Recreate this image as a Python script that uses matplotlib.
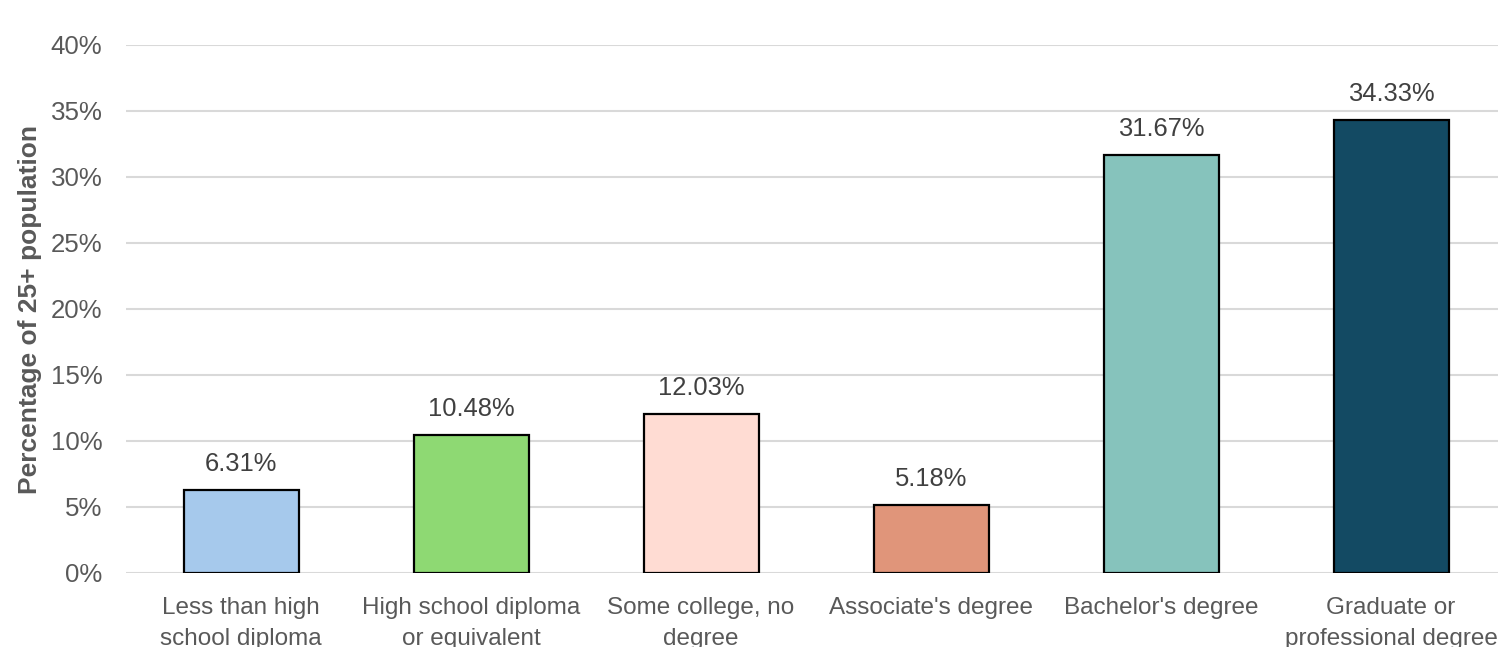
import matplotlib
matplotlib.use("Agg")
import matplotlib.pyplot as plt
from matplotlib.ticker import PercentFormatter

plt.rcParams["font.family"] = ["Liberation Sans", "DejaVu Sans"]

categories = ["Less than high\nschool diploma", "High school diploma\nor equivalent",
              "Some college, no\ndegree", "Associate's degree", "Bachelor's degree",
              "Graduate or\nprofessional degree"]
values = [6.31, 10.48, 12.03, 5.18, 31.67, 34.33]
colors = ["#A6C9EC", "#8ED973", "#FFDCD3", "#E0957A", "#86C3BC", "#134A63"]
yticks = [0, 5, 10, 15, 20, 25, 30, 35, 40]

TXT = "#595959"

fig = plt.figure(figsize=(14.98, 6.47), dpi=100)
ax = fig.add_axes([126 / 1498, 74 / 647, 1380 / 1498, 528 / 647])

x = range(len(categories))
bars = ax.bar(x, values, width=0.5, color=colors, edgecolor="black", linewidth=1.6, zorder=3)
for b, v in zip(bars, values):
    ax.annotate(f"{v:.2f}%", (b.get_x() + b.get_width() / 2, v), xytext=(0, 10),
                textcoords="offset points", ha="center", va="bottom",
                fontsize=18.4, color="#404040")

ax.set_xlim(-0.5, len(categories) - 0.5)
ax.set_ylim(0, 40)
ax.set_yticks(yticks)
ax.yaxis.set_major_formatter(PercentFormatter(decimals=0))
ax.set_xticks(list(x))
ax.set_xticklabels(categories, linespacing=1.55, fontsize=17.5)
ax.tick_params(axis="both", length=0, labelcolor=TXT)
ax.tick_params(axis="y", pad=17, labelsize=18.6)
ax.tick_params(axis="x", pad=17)
ax.grid(axis="y", color="#D9D9D9", linewidth=1.5, zorder=0)
for s in ax.spines.values():
    s.set_visible(False)
ax.set_ylabel("Percentage of 25+ population", fontsize=19, fontweight="bold",
              color=TXT, labelpad=6)

fig.savefig("out.png", dpi=100)
